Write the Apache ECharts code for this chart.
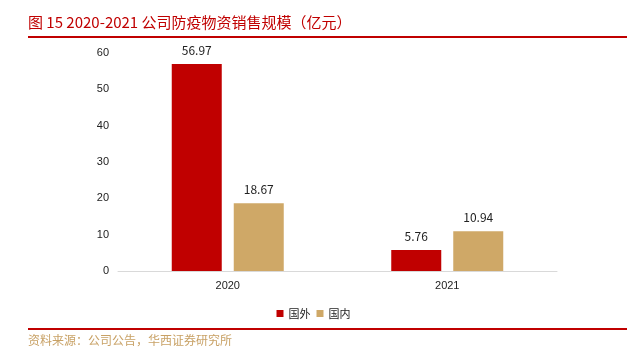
<!DOCTYPE html>
<html><head><meta charset="utf-8">
<script src="https://cdn.jsdelivr.net/npm/echarts@6/dist/echarts.min.js"></script>
<style>html,body{margin:0;padding:0;background:#fff}#c{width:627px;height:362px}</style>
</head><body><div id="c"></div>
<script>
const categories = ['2020', '2021'];
const foreign = [56.97, 5.76];
const domestic = [18.67, 10.94];
const seriesNames = ['国外', '国内'];
const yTicks = [0, 10, 20, 30, 40, 50, 60];

const chart = echarts.init(document.getElementById('c'));
const labelStyle = {show: true, position: 'top', distance: 8, color: '#222', fontSize: 12, fontFamily: 'Noto Sans CJK SC'};
chart.setOption({
  animation: false,
  graphic: [
    {type: 'text', left: 28, top: 15, style: {text: '图 15 2020-2021 公司防疫物资销售规模（亿元）', fill: '#C00000', font: '15px "Noto Sans CJK SC"'}},
    {type: 'rect', shape: {x: 28, y: 36, width: 599, height: 2}, style: {fill: '#C00000'}},
    {type: 'rect', shape: {x: 28, y: 328, width: 599, height: 2}, style: {fill: '#C00000'}},
    {type: 'text', left: 28, top: 334, style: {text: '资料来源：公司公告，华西证券研究所', fill: '#C8A165', font: '12px "Noto Sans CJK SC"'}}
  ],
  legend: {
    data: seriesNames, top: 303, left: 'center', itemWidth: 7, itemHeight: 7, itemGap: 6,
    icon: 'rect', textStyle: {fontSize: 11, color: '#222', fontFamily: 'Noto Sans CJK SC'}
  },
  grid: {left: 118, right: 70, top: 53, bottom: 91, containLabel: false},
  xAxis: {
    type: 'category', data: categories,
    axisLine: {lineStyle: {color: '#d9d9d9'}}, axisTick: {show: false},
    axisLabel: {color: '#222', fontSize: 11, margin: 9, fontFamily: 'Arial'}
  },
  yAxis: {
    type: 'value', min: yTicks[0], max: yTicks[yTicks.length - 1], interval: 10,
    splitLine: {show: false}, axisLine: {show: false}, axisTick: {show: false},
    axisLabel: {color: '#222', fontSize: 11, margin: 9, fontFamily: 'Arial'}
  },
  series: [
    {name: seriesNames[0], type: 'bar', data: foreign, barWidth: 50, barGap: '24%', itemStyle: {color: '#C00000'}, label: labelStyle},
    {name: seriesNames[1], type: 'bar', data: domestic, barWidth: 50, itemStyle: {color: '#CFA867'}, label: labelStyle}
  ]
});
</script></body></html>
